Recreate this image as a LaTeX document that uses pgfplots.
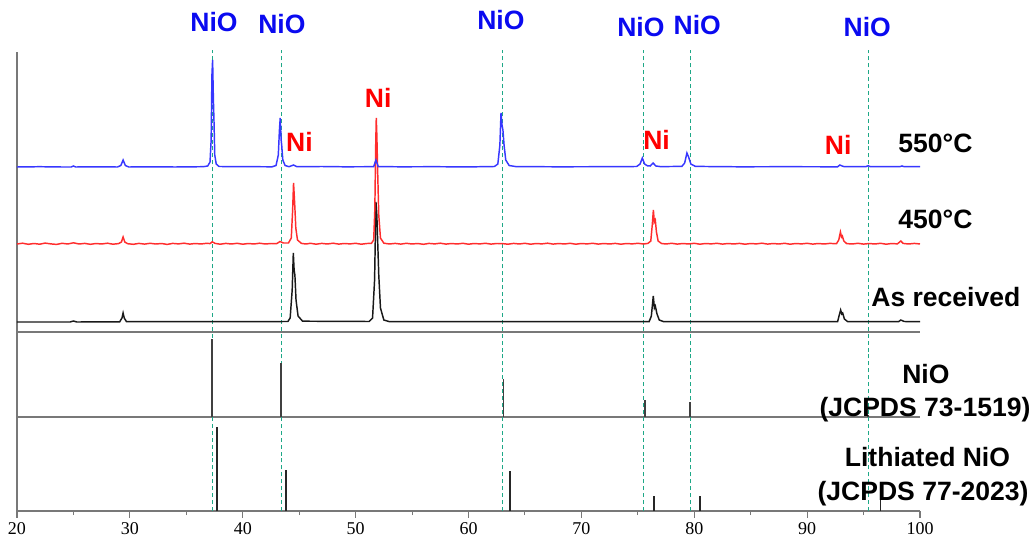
\documentclass[border=0pt]{standalone}
\usepackage{pgfplots}
\pgfplotsset{compat=1.18}
\usepackage{fontspec}
\setmainfont{Liberation Sans}
\newfontfamily\seriffont{Liberation Serif}
\definecolor{cblue}{RGB}{55,55,255}
\definecolor{lblue}{RGB}{10,10,240}
\definecolor{cred}{RGB}{255,45,45}
\definecolor{lred}{RGB}{255,0,0}
\definecolor{cblack}{RGB}{25,25,25}
\definecolor{teal2}{RGB}{30,168,135}
\definecolor{axgray}{RGB}{120,120,120}
\tikzset{lab/.style={font=\bfseries\fontsize{19.9}{22}\selectfont, inner sep=0pt, anchor=base}}
\begin{document}
\begin{tikzpicture}
\useasboundingbox (0,0) rectangle (773.25pt,405pt);
\begin{axis}[
  at={(12.75pt,21.75pt)}, anchor=south west,
  scale only axis, width=677.25pt, height=344.25pt,
  xmin=20, xmax=100, ymin=29, ymax=488,
  axis x line=bottom, axis y line=left,
  axis line style={-, axgray, line width=0.9pt},
  ytick=\empty,
  xtick={20,30,...,100}, minor x tick num=1,
  tick align=outside,
  major tick length=5pt, minor tick length=3pt,
  every tick/.style={axgray, line width=0.8pt},
  /pgf/number format/assume math mode=true,
  xticklabel style={font=\seriffont\fontsize{13.5}{15}\selectfont, text=black},
  clip=false,
]
% panel separators
\addplot[axgray, line width=0.9pt] coordinates {(20,208) (100,208)};
\addplot[axgray, line width=0.9pt] coordinates {(20,123) (100,123)};
% dashed NiO guide lines
\addplot[teal2, line width=0.85pt, dash pattern=on 3pt off 2.2pt, unbounded coords=jump] coordinates {
(37.3,29) (37.3,490) (37.3,nan)
(43.4,29) (43.4,490) (43.4,nan)
(63.0,29) (63.0,490) (63.0,nan)
(75.5,29) (75.5,490) (75.5,nan)
(79.7,29) (79.7,490) (79.7,nan)
(95.4,29) (95.4,490)};
% NiO reference sticks (JCPDS 73-1519)
\addplot[black!75, line width=1.4pt, unbounded coords=jump] coordinates {
(37.3,123) (37.3,201) (37.3,nan)
(43.4,123) (43.4,177) (43.4,nan)
(63.1,123) (63.1,161) (63.1,nan)
(75.6,123) (75.6,140) (75.6,nan)
(79.6,123) (79.6,138) (79.6,nan)
(95.4,123) (95.4,125)};
% Lithiated NiO sticks (JCPDS 77-2023)
\addplot[black!85, line width=1.4pt, unbounded coords=jump] coordinates {
(37.7,29) (37.7,113) (37.7,nan)
(43.8,29) (43.8,70) (43.8,nan)
(63.7,29) (63.7,69) (63.7,nan)
(76.4,29) (76.4,44) (76.4,nan)
(80.5,29) (80.5,44) (80.5,nan)
(96.5,29) (96.5,40)};
% As received
\addplot[cblack, line width=1.1pt] coordinates {
(20,218) (24.7,218) (25,219) (25.3,218) (29.1,218.2) (29.3,222) (29.4,227) (29.5,222) (29.7,218.3)
(37.3,218.3) (44.0,218.5) (44.2,222) (44.38,250) (44.48,287) (44.55,270) (44.62,265) (44.72,240) (44.9,224) (45.3,218.8)
(51.2,218.5) (51.5,222) (51.68,260) (51.8,338) (51.88,325) (51.95,300) (52.05,265) (52.2,232) (52.5,220) (53,218.3)
(76.0,218.3) (76.2,224) (76.37,244) (76.47,232) (76.55,234) (76.7,226) (76.9,220) (77.3,218.3)
(92.7,218.3) (92.85,225) (92.97,230) (93.07,226) (93.15,227) (93.3,221) (93.6,218.3)
(98.1,218.3) (98.3,220) (98.6,218.5) (100,218.3)};
% 450 C
\addplot[cred, line width=1.1pt] coordinates {
(20,296) (20.5,296.8) (21,295.7) (21.5,296.5) (22,295.8) (22.5,296.9) (23,296.1) (23.5,295.6) (24,296.7) (24.5,296.0) (25,297.2) (25.5,296.0) (26,296.6) (26.5,295.7) (27,296.5) (27.5,296.0) (28,296.8) (28.5,295.8) (29,296.4) (29.25,298) (29.4,303) (29.55,298) (29.8,296.3) (30.3,295.7) (30.8,296.6) (31.3,295.9) (31.8,296.7) (32.3,296.0) (32.8,296.5) (33.3,295.6) (33.8,296.6) (34.3,296.1) (34.8,296.8) (35.3,295.9) (35.8,296.5) (36.3,296.0) (36.8,296.7) (37.1,296.4) (37.3,298.2) (37.55,296.6) (38,295.8) (38.5,296.6) (39,296.0) (39.5,296.7) (40,295.8) (40.5,296.5) (41,296.0) (41.5,296.8) (42,296.0) (42.5,296.5) (43,296.3) (43.3,298.5) (43.6,297) (44.05,297) (44.3,302) (44.42,330) (44.5,357) (44.56,345) (44.62,332) (44.7,312) (44.85,300) (45.2,296.6) (45.6,296.0) (46,296.7) (46.5,295.8) (47,296.6) (47.5,296.0) (48,296.8) (48.5,295.9) (49,296.5) (49.5,296.1) (50,296.7) (50.5,295.8) (51,296.5) (51.4,296.6) (51.6,300) (51.7,330) (51.78,395) (51.83,422) (51.88,405) (51.95,370) (52.05,325) (52.2,302) (52.5,296.8) (53,296.0) (53.5,296.6) (54,295.9) (54.5,296.7) (55,296.0) (55.5,296.5) (56,295.7) (56.5,296.6) (57,296.1) (57.5,296.8) (58,295.9) (58.5,296.5) (59,296.0) (59.5,296.7) (60,295.8) (60.5,296.5) (61,296.1) (61.5,296.7) (62,295.9) (62.5,296.5) (63,296.4) (63.5,295.8) (64,296.6) (64.5,296.0) (65,296.7) (65.5,295.8) (66,296.5) (66.5,296.1) (67,296.8) (67.5,295.9) (68,296.5) (68.5,296.0) (69,296.7) (69.5,295.8) (70,296.5) (70.5,296.1) (71,296.7) (71.5,295.9) (72,296.5) (72.5,296.0) (73,296.6) (73.5,295.8) (74,296.5) (74.5,296.1) (75,296.7) (75.5,296.0) (75.9,296.6) (76.15,299) (76.28,315) (76.38,330) (76.46,318) (76.55,320) (76.65,308) (76.8,299) (77.1,296.5) (77.5,296.0) (78,296.7) (78.5,295.9) (79,296.5) (79.5,296.0) (80,296.7) (80.5,295.8) (81,296.5) (81.5,296.1) (82,296.7) (82.5,295.9) (83,296.5) (83.5,296.0) (84,296.6) (84.5,295.8) (85,296.5) (85.5,296.1) (86,296.8) (86.5,295.9) (87,296.5) (87.5,296.0) (88,296.7) (88.5,295.8) (89,296.5) (89.5,296.1) (90,296.7) (90.5,295.9) (91,296.5) (91.5,296.0) (92,296.6) (92.6,296.3) (92.8,300) (92.95,308) (93.05,303) (93.12,304) (93.25,299) (93.5,296.4) (94,296.0) (94.5,296.7) (95,295.9) (95.5,296.5) (96,296.0) (96.5,296.7) (97,295.8) (97.5,296.5) (98,296.1) (98.3,299) (98.5,296.6) (99,296.0) (99.5,296.6) (100,296.0)};
% 550 C
\addplot[cblue, line width=1.1pt] coordinates {
(20,373) (22,373.3) (24,373) (24.8,373) (25,374) (25.2,373) (27,373.2) (28.9,373) (29.2,374.5) (29.4,380) (29.6,374.5) (29.9,373) (32,373.2) (34,373) (36.5,373.3) (36.9,374) (37.1,378) (37.2,400) (37.27,465) (37.33,480) (37.4,440) (37.45,420) (37.52,385) (37.65,376) (37.9,373.5) (39.5,373.4) (42.6,373.2) (42.95,374.5) (43.15,385) (43.25,410) (43.32,422) (43.4,400) (43.45,395) (43.55,380) (43.75,374.5) (44.1,373.3) (44.5,375) (44.8,373.3) (47,373.5) (49,373.2) (51.6,373.3) (51.8,380) (52.0,373.4) (54,373.2) (57,373.3) (60,373.1) (62.3,373.5) (62.6,376) (62.78,395) (62.88,427) (62.97,415) (63.05,410) (63.15,395) (63.3,380) (63.6,374.5) (64.2,373.4) (68,373.2) (72,373.3) (74.9,373.5) (75.2,376) (75.4,382) (75.6,376) (75.85,374.2) (76.1,374) (76.35,377) (76.6,374) (77,373.4) (78.9,373.6) (79.15,377) (79.35,387) (79.5,383) (79.7,376) (80.1,373.6) (84,373.2) (88,373.3) (92.7,373.2) (92.9,375) (93.1,374) (93.3,373.3) (95.2,373.3) (95.4,374.3) (95.6,373.3) (98.2,373.3) (98.4,374) (98.6,373.3) (100,373.3)};
% top NiO labels
\node[lab, text=lblue] at (axis cs:37.45,508) {NiO};
\node[lab, text=lblue] at (axis cs:43.47,506.5) {NiO};
\node[lab, text=lblue] at (axis cs:62.87,510) {NiO};
\node[lab, text=lblue] at (axis cs:75.27,503.5) {NiO};
\node[lab, text=lblue] at (axis cs:80.27,505) {NiO};
\node[lab, text=lblue] at (axis cs:95.33,503.5) {NiO};
% Ni labels
\node[lab, text=lred] at (axis cs:45.02,388) {Ni};
\node[lab, text=lred] at (axis cs:52.0,432) {Ni};
\node[lab, text=lred] at (axis cs:76.66,390) {Ni};
\node[lab, text=lred] at (axis cs:92.75,385) {Ni};
% right labels
\node[lab] at (axis cs:101.37,387) {550°C};
\node[lab] at (axis cs:101.37,312) {450°C};
\node[lab] at (axis cs:102.29,233.3) {As received};
\node[lab] at (axis cs:100.52,156.7) {NiO};
\node[lab] at (axis cs:100.44,123.3) {(JCPDS 73-1519)};
\node[lab] at (axis cs:100.66,73.3) {Lithiated NiO};
\node[lab] at (axis cs:100.27,40) {(JCPDS 77-2023)};
\end{axis}
\end{tikzpicture}
\end{document}
